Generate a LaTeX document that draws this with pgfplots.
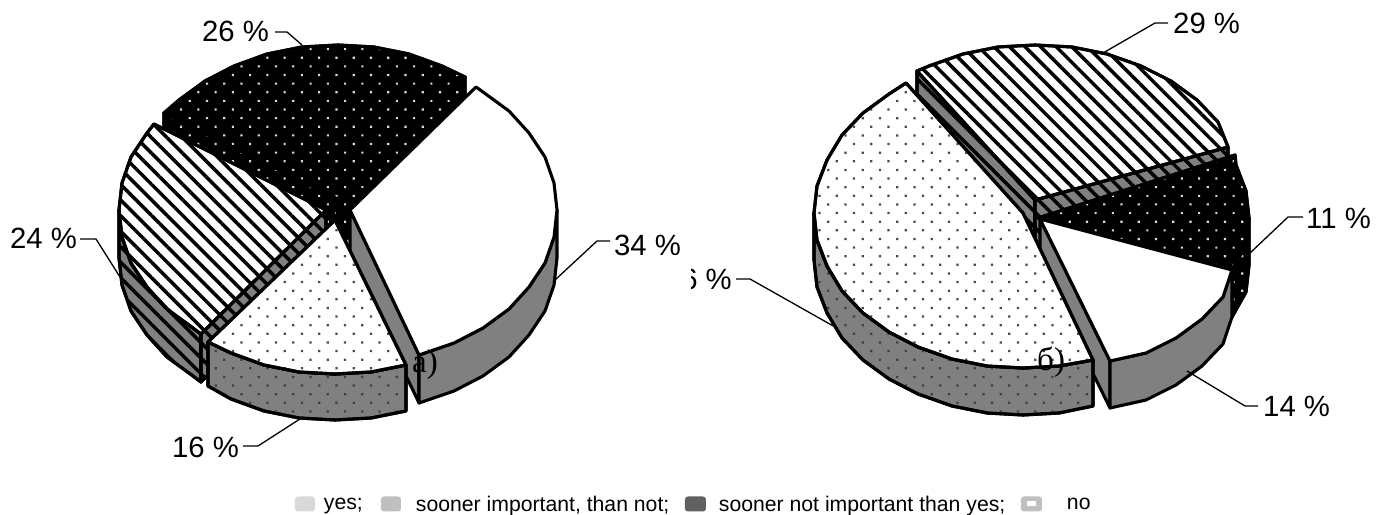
\documentclass[border=0pt]{standalone}
\usepackage{fontspec}
\setmainfont{Liberation Sans}
\newfontfamily\serifl{Liberation Serif}
\usepackage{pgfplots}
\pgfplotsset{compat=1.18}
\usetikzlibrary{patterns.meta}
\definecolor{gray}{HTML}{808080}
\tikzset{
 edge/.style={draw=black,line width=3.1bp,line join=round},
 sw/.style={edge,fill=white,postaction={pattern={Lines[angle=-45,distance=11bp,line width=3.5bp]},pattern color=black}},
 sg/.style={edge,fill=gray,postaction={pattern={Lines[angle=-45,distance=11bp,line width=3.5bp]},pattern color=black}},
 dw/.style={edge,fill=white,postaction={pattern={Dots[angle=45,distance=12.2bp,radius=1.6bp]},pattern color=black!70}},
 dg/.style={edge,fill=gray,postaction={pattern={Dots[angle=45,distance=12.2bp,radius=1.6bp]},pattern color=black!75}},
 kk/.style={edge,fill=black,postaction={pattern={Dots[angle=45,distance=12.2bp,radius=1.5bp]},pattern color=white!85!black}},
 wh/.style={edge,fill=white},
 gr/.style={edge,fill=gray},
 lead/.style={draw=black,line width=1.3bp},
 lab/.style={inner sep=0pt,font=\fontsize{29.3bp}{32bp}\selectfont},
 ser/.style={inner sep=0pt,text=black,font=\fontsize{33bp}{36bp}\selectfont\serifl},
}
\newcommand{\swatch}[3]{%
 \addlegendimage{legend image code/.code={%
  \path[draw=none,fill=none] (0bp,-7.5bp) rectangle (#3,7.5bp);
  \fill[#1,draw=none,rounded corners=3bp] (0bp,-7.5bp) rectangle (#2,7.5bp);}}}
\newcommand{\legtext}[2]{\makebox[#1][l]{\raisebox{-2bp}{\fontsize{21.2bp}{24bp}\selectfont #2}}}
\begin{document}
\begin{tikzpicture}
\begin{axis}[
 scale only axis,width=1390bp,height=515bp,
 xmin=0,xmax=1390,ymin=0,ymax=515,y dir=reverse,hide axis,no markers,
 legend columns=8,
 legend style={at={(0.2122,0.0214)},anchor=west,draw=none,fill=none,inner sep=0pt,outer sep=0pt,
   nodes={inner sep=0pt,outer sep=0pt,anchor=west},/tikz/column sep=0pt,row sep=0pt},
]
% ---- left pie: dark slice
\addplot[forget plot,kk] coordinates {(338,199)(164,113)(164,161)(338,247)} --cycle;
\addplot[forget plot,kk] coordinates {(338,199)(465,77)(465,125)(338,247)} --cycle;
\addplot[forget plot,kk] coordinates {(338,199)(164,113)(179,100)(205,81)(234,66)(267,54)(302,47)(338,45)(374,47)(409,54)(442,66)(465,77)} --cycle;
% ---- left pie: striped slice
\addplot[forget plot,sg] coordinates {(119,210)(122,237)(131,263)(147,287)(167,309)(193,328)(201,334)(201,382)(193,376)(167,357)(147,335)(131,311)(122,285)(119,258)} --cycle;
\addplot[forget plot,sg] coordinates {(326,210)(201,334)(201,382)(326,258)} --cycle;
\addplot[forget plot,sw] coordinates {(326,210)(201,334)(193,328)(167,309)(147,287)(131,263)(122,237)(119,210)(122,183)(131,157)(147,133)(154,124)} --cycle;
% ---- left pie: white slice
\addplot[forget plot,gr] coordinates {(350,210)(419,355)(419,403)(350,258)} --cycle;
\addplot[forget plot,gr] coordinates {(557,210)(554,237)(545,263)(529,287)(509,309)(483,328)(454,343)(419,355)(419,403)(454,391)(483,376)(509,357)(529,335)(545,311)(554,285)(557,258)} --cycle;
\addplot[forget plot,wh] coordinates {(350,210)(476,87)(483,92)(509,111)(529,133)(545,157)(554,183)(557,210)(554,237)(545,263)(529,287)(509,309)(483,328)(454,343)(419,355)} --cycle;
% ---- left pie: dotted slice
\addplot[forget plot,dg] coordinates {(208,342)(231,353)(264,365)(299,372)(335,374)(371,372)(406,365)(406,411)(371,418)(335,420)(299,418)(264,411)(231,399)(208,386)} --cycle;
\addplot[forget plot,dw] coordinates {(335,220)(406,365)(371,372)(335,374)(299,372)(264,365)(231,353)(208,342)} --cycle;
% ---- right pie: striped slice
\addplot[forget plot,sg] coordinates {(917,71)(1035,200)(1035,247)(917,118)} --cycle;
\addplot[forget plot,sg] coordinates {(1035,200)(1228,147)(1228,194)(1035,247)} --cycle;
\addplot[forget plot,sw] coordinates {(1035,200)(917,71)(929,66)(963,54)(998,47)(1035,45)(1072,47)(1107,54)(1141,66)(1171,81)(1197,100)(1218,122)(1228,147)} --cycle;
% ---- right pie: dark slice
\addplot[forget plot,kk] coordinates {(1249,218)(1246,245)(1232,270)(1232,317)(1246,292)(1249,265)} --cycle;
\addplot[forget plot,kk] coordinates {(1038,218)(1235,155)(1236,165)(1246,191)(1249,218)(1246,245)(1232,270)} --cycle;
% ---- right pie: white slice
\addplot[forget plot,gr] coordinates {(1040,219)(1110,361)(1110,408)(1040,266)} --cycle;
\addplot[forget plot,gr] coordinates {(1232,270)(1223,297)(1202,319)(1176,338)(1146,353)(1110,361)(1110,408)(1146,400)(1176,385)(1202,366)(1223,344)(1232,317)} --cycle;
\addplot[forget plot,wh] coordinates {(1040,219)(1232,270)(1223,297)(1202,319)(1176,338)(1146,353)(1110,361)} --cycle;
% ---- right pie: dotted slice
\addplot[forget plot,dg] coordinates {(814,213)(817,240)(827,266)(842,291)(863,313)(889,332)(918,347)(952,359)(987,366)(1023,368)(1059,366)(1093,360)(1093,406)(1059,413)(1023,415)(987,413)(952,406)(918,394)(889,379)(863,360)(842,338)(827,313)(817,287)(814,260)} --cycle;
\addplot[forget plot,dw] coordinates {(1023,213)(1093,360)(1059,366)(1023,368)(987,366)(952,359)(918,347)(889,332)(863,313)(842,291)(827,266)(817,240)(814,213)(817,186)(827,160)(842,135)(863,113)(889,94)(906,83)} --cycle;
% ---- leader lines
\addplot[forget plot,lead] coordinates {(275,32)(287,32)(302,45)};
\addplot[forget plot,lead] coordinates {(80,239)(96,239)(120,277)};
\addplot[forget plot,lead] coordinates {(610,241)(597,241)(555,280)};
\addplot[forget plot,lead] coordinates {(243,446)(258,446)(303,417)};
\addplot[forget plot,lead] coordinates {(1168,23)(1155,23)(1103,53)};
\addplot[forget plot,lead] coordinates {(1303,217)(1288,217)(1250,253)};
\addplot[forget plot,lead] coordinates {(1187,371)(1245,406)(1258,406)};
\addplot[forget plot,lead] coordinates {(736,279)(750,279)(835,327)};
% ---- labels
\node[lab,anchor=west] at (axis cs:202,31.5) {26 \%};
\node[lab,anchor=west] at (axis cs:10,238) {24 \%};
\node[lab,anchor=west] at (axis cs:614,245) {34 \%};
\node[lab,anchor=west] at (axis cs:172,447) {16 \%};
\node[lab,anchor=west] at (axis cs:1173,23) {29 \%};
\node[lab,anchor=west] at (axis cs:1306,218) {11 \%};
\node[lab,anchor=west] at (axis cs:1263,406) {14 \%};
\node[lab,anchor=east] at (axis cs:732,279) {46 \%};
\fill[white] (axis cs:640,255) rectangle (axis cs:691,305);
\node[ser,anchor=west] at (axis cs:412,365) {a)};
\node[ser,anchor=west] at (axis cs:1037,362) {б)};
% ---- legend
\swatch{black!15}{20bp}{29bp}
\addlegendentry{\legtext{57bp}{yes;}}
\swatch{black!25}{20bp}{35bp}
\addlegendentry{\legtext{269bp}{sooner important, than not;}}
\swatch{black!62}{21bp}{34bp}
\addlegendentry{\legtext{302bp}{sooner not important than yes;}}
\addlegendimage{legend image code/.code={%
  \path[draw=none,fill=none] (0bp,-7.5bp) rectangle (46bp,7.5bp);
  \fill[black!25,draw=none,rounded corners=3bp] (0bp,-7.5bp) rectangle (21bp,7.5bp);
  \fill[white,draw=none] (6bp,-2.5bp) rectangle (15bp,2.5bp);}}
\addlegendentry{\legtext{30bp}{no}}
\end{axis}
\pgfresetboundingbox
\path (0,0) rectangle (1390bp,515bp);
\end{tikzpicture}
\end{document}
